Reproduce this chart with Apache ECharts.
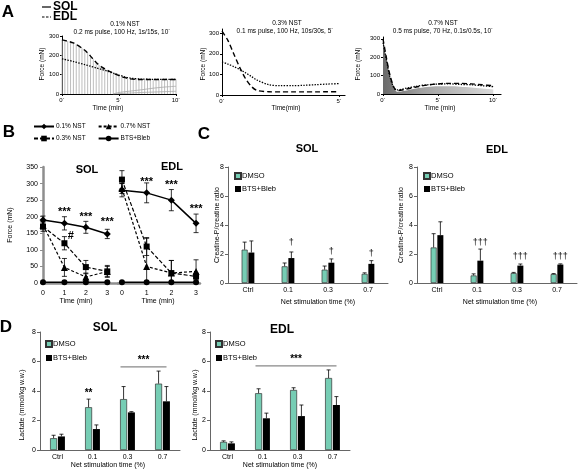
<!DOCTYPE html>
<html><head><meta charset="utf-8">
<script src="https://cdn.jsdelivr.net/npm/echarts@6/dist/echarts.min.js"></script>
<style>html,body{margin:0;padding:0;background:#fff}#c{width:578px;height:470px}</style>
</head><body><div id="c"></div>
<script>
// ---------------- DATA ----------------
// Panel A (force traces, mN vs min)
const A1_lineTime = [0,1,2,2.5,3,3.5,4,4.5,5,5.5,6,7,8,9,10];
const A1_EDL = [280,264,226,196,163,139,122,108,95,85,78,75,75,75,75];
const A1_SOL = [182,168,152,144,135,127,118,108,98,89,82,77,76,76,75];
const A1_twitchTime = [0,0.25,0.5,0.75,1,1.25,1.5,1.75,2,2.25,2.5,2.75,3,3.25,3.5,3.75,4,4.25,4.5,4.75,5,5.25,5.5,5.75,6,6.25,6.5,6.75,7,7.25,7.5,7.75,8,8.25,8.5,8.75,9,9.25,9.5,9.75,10];
const A1_twitch = [280,278,274,270,264,258,248,238,226,212,196,180,163,150,139,130,122,115,108,101,95,90,85,81,78,77,76,76,75,75,75,75,75,75,75,75,75,75,75,75,75];
const A1_baseTime = [4.5,5,6,7,8,9,10];
const A1_base1 = [0,8,15,22,30,36,40];
const A1_base2 = [0,2,5,8,10,12,14];
const A2_time = [0,0.25,0.5,0.75,1,1.25,1.5,2,2.5,3,3.5,4,4.5,5];
const A2_EDL = [310,265,200,135,80,42,22,16,15,15,15,15,16,16];
const A2_SOL = [160,150,138,124,108,90,72,50,45,45,47,50,53,55];
const A3_time = [0,0.3,0.6,1,1.3,2,3,4,5,6,7,8,9,10];
const A3_EDL = [300,200,110,35,18,25,38,48,55,58,58,55,50,45];
const A3_SOL = [280,190,100,32,22,30,42,50,54,55,52,50,45,40];
const A3_area = [290,195,105,30,12,18,30,38,42,42,40,36,30,25];
const A_xTicks = [0,5,10];
const A2_xTicks = [0,5];
const A_yTicks = [0,100,200,300];

// Panel B (force, mN)
const B_time = [0,1,2,3];
const B_SOL_01 = [190,180,168,148], B_SOL_01_err = [12,20,18,14];
const B_SOL_03 = [170,120,48,35],  B_SOL_03_err = [14,20,20,18];
const B_SOL_07 = [175,47,18,35],   B_SOL_07_err = [10,27,12,15];
const B_SOL_BTS = [2,2,2,2];
const B_EDL_01 = [280,272,250,180], B_EDL_01_err = [20,30,32,28];
const B_EDL_03 = [312,110,30,20],  B_EDL_03_err = [27,27,38,10];
const B_EDL_07 = [285,50,30,35],   B_EDL_07_err = [15,85,38,35];
const B_EDL_BTS = [2,2,2,2];
const B_SOL_sig = [[1,214],[2,200],[3,184],[1.3,142]];
const B_SOL_sigText = ['***','***','***','#'];
const B_EDL_sig = [[1,306],[2,297],[3,224]];
const B_EDL_sigText = ['***','***','***'];

// Panel C (Creatine-P/creatine ratio)
const cats = ['Ctrl','0.1','0.3','0.7'];
const C_SOL_DMSO = [2.3,1.15,0.92,0.63], C_SOL_DMSO_err = [0.52,0.23,0.25,0.07];
const C_SOL_BTS  = [2.1,1.72,1.4,1.32],  C_SOL_BTS_err  = [0.8,0.42,0.26,0.22];
const C_EDL_DMSO = [2.45,0.52,0.68,0.61], C_EDL_DMSO_err = [0.95,0.11,0.05,0.04];
const C_EDL_BTS  = [3.3,1.54,1.2,1.27],  C_EDL_BTS_err  = [0.92,0.8,0.11,0.05];
const C_SOL_sig = [[1,2.76],[2,2.15],[3,2.05]];
const C_SOL_sigText = ['†','†','†'];
const C_EDL_sig = [[1,2.79],[2,1.81],[3,1.81]];
const C_EDL_sigText = ['†††','†††','†††'];

// Panel D (Lactate, mmol/kg w.w.)
const D_SOL_DMSO = [0.8,2.9,3.45,4.5],  D_SOL_DMSO_err = [0.2,0.55,0.85,0.85];
const D_SOL_BTS  = [0.92,1.42,2.55,3.3], D_SOL_BTS_err  = [0.15,0.28,0.05,1.0];
const D_EDL_DMSO = [0.55,3.85,4.07,4.88], D_EDL_DMSO_err = [0.07,0.3,0.15,0.55];
const D_EDL_BTS  = [0.45,2.15,2.3,3.05],  D_EDL_BTS_err  = [0.1,0.35,0.75,0.57];
const D_SOL_sig = [[1,3.86]], D_SOL_sigText = ['**'];
const D_SOL_bracket = [[2,5.63,3]], D_EDL_bracket = [[1,5.7,3]];

// ---------------- STYLE ----------------
const FONT = '"Liberation Sans", Arial, Helvetica, sans-serif';
const GREEN = '#76cdb4';
const GREY = '#8e8e8e';
const pairs = (xs, ys) => xs.map((x,i)=>[x, ys[i]]);
const triples = (xs, ys, es) => xs.map((x,i)=>[x, ys[i], es[i]]);
const lbl = (size, extra) => Object.assign({fontSize:size, color:'#000', fontFamily:FONT}, extra||{});

function T(x, y, text, size, o) {
  o = o || {};
  return {type:'text', x:x, y:y, rotation:o.rot||0, z:100, silent:true,
    style:{text:text, font:(o.bold?'bold ':'')+size+'px '+FONT, fill:'#000',
      textAlign:o.align||'center', textVerticalAlign:'middle', align:o.align||'center', verticalAlign:'middle'}};
}

// ---------------- GRIDS & AXES ----------------
const grids = [
  {left:62, top:36, width:114, height:58},
  {left:222, top:29, width:123, height:66},
  {left:383, top:37, width:118, height:57},
  {left:43, top:167, width:75, height:116},
  {left:118, top:167, width:82, height:116},
  {left:228, top:167, width:160, height:116},
  {left:417, top:167, width:160, height:116},
  {left:40, top:332, width:140, height:118},
  {left:210, top:332, width:140, height:118}
].map(g => Object.assign({containLabel:false, outerBoundsMode:'none'}, g));

function axA_x(gi, max, ticks) {
  return {gridIndex:gi, type:'value', min:0, max:max,
    axisLine:{show:true, lineStyle:{color:'#000', width:1.2}},
    axisTick:{show:true, length:2, customValues:ticks, lineStyle:{color:'#000'}},
    axisLabel:Object.assign(lbl(6), {margin:3, customValues:ticks, formatter:v=>v+'´'}),
    splitLine:{show:false}};
}
function axA_y(gi, max) {
  return {gridIndex:gi, type:'value', min:0, max:max,
    axisLine:{show:true, lineStyle:{color:'#000', width:1}},
    axisTick:{show:true, length:2, customValues:A_yTicks, lineStyle:{color:'#000'}},
    axisLabel:Object.assign(lbl(6), {margin:3, customValues:A_yTicks}),
    splitLine:{show:false}};
}
function axB_x(gi, min, max) {
  return {gridIndex:gi, type:'value', min:min, max:max,
    axisLine:{show:true, onZero:false, lineStyle:{color:GREY, width:2.5}},
    axisTick:{show:false},
    axisLabel:Object.assign(lbl(7), {margin:7, customValues:B_time}),
    splitLine:{show:false}};
}
function axB_y(gi, show) {
  return {gridIndex:gi, type:'value', min:0, max:350, interval:50, show:show,
    axisLine:{show:true, lineStyle:{color:GREY, width:2.5}},
    axisTick:{show:true, length:3, lineStyle:{color:GREY}},
    axisLabel:Object.assign(lbl(7), {margin:5}),
    splitLine:{show:false}};
}
function axCat(gi) {
  return {gridIndex:gi, type:'category', data:cats,
    axisLine:{show:true, lineStyle:{color:'#666', width:1}},
    axisTick:{show:false},
    axisLabel:Object.assign(lbl(7), {margin:4}),
    splitLine:{show:false}};
}
function axBarY(gi) {
  return {gridIndex:gi, type:'value', min:0, max:8, interval:2,
    axisLine:{show:true, lineStyle:{color:'#666', width:1}},
    axisTick:{show:true, length:3, lineStyle:{color:'#666'}},
    axisLabel:Object.assign(lbl(7), {margin:4}),
    splitLine:{show:false}};
}

const xAxis = [axA_x(0,10,A_xTicks), axA_x(1,5.25,A2_xTicks), axA_x(2,10.7,A_xTicks),
  axB_x(3,0,3.5), axB_x(4,-0.16,3.16), axCat(5), axCat(6), axCat(7), axCat(8)];
const yAxis = [axA_y(0,300), axA_y(1,320), axA_y(2,310),
  axB_y(3,true), axB_y(4,false), axBarY(5), axBarY(6), axBarY(7), axBarY(8)];

// ---------------- SERIES HELPERS ----------------
const EDL_LS = {color:'#000', width:1.4, type:[5,3]};
const SOL_LS = {color:'#000', width:1.3, type:[1.4,1.4]};
function lineA(gi, xs, ys, ls, name) {
  return {type:'line', name:name, xAxisIndex:gi, yAxisIndex:gi, data:pairs(xs,ys), smooth:0.3,
    symbol:'none', lineStyle:ls, silent:true, z:5};
}
function errBothSeries(gi, xs, ys, es) {
  return {type:'custom', xAxisIndex:gi, yAxisIndex:gi, silent:true, z:3, data:triples(xs,ys,es),
    renderItem:function(params, api){
      const x=api.value(0), y=api.value(1), e=api.value(2);
      const a=api.coord([x,y+e]), b=api.coord([x,Math.max(0,y-e)]);
      const st={stroke:'#000', lineWidth:0.8};
      return {type:'group', children:[
        {type:'line', shape:{x1:a[0],y1:a[1],x2:b[0],y2:b[1]}, style:st},
        {type:'line', shape:{x1:a[0]-2.5,y1:a[1],x2:a[0]+2.5,y2:a[1]}, style:st},
        {type:'line', shape:{x1:b[0]-2.5,y1:b[1],x2:b[0]+2.5,y2:b[1]}, style:st}]};
    }};
}
function lineB(gi, name, ys, symbol, size, ls) {
  return {type:'line', name:name, xAxisIndex:gi, yAxisIndex:gi, data:pairs(B_time, ys),
    symbol:symbol, symbolSize:size, showAllSymbol:true, itemStyle:{color:'#000'},
    lineStyle:ls, z:6, silent:true};
}
function barS(gi, name, ys, color, bw, border) {
  return {type:'bar', name:name, xAxisIndex:gi, yAxisIndex:gi, data:ys, barWidth:bw, barGap:'12%',
    itemStyle:{color:color, borderColor:border?'#333':color, borderWidth:border?0.7:0}, silent:true, z:2};
}
function errUpSeries(gi, ys, es, off) {
  return {type:'custom', xAxisIndex:gi, yAxisIndex:gi, silent:true, z:4,
    data:ys.map((v,i)=>[i, v, es[i]]),
    renderItem:function(params, api){
      const c=api.value(0), v=api.value(1), e=api.value(2);
      const p0=api.coord([c,v]), p1=api.coord([c,v+e]);
      const x=p0[0]+off;
      const st={stroke:'#000', lineWidth:0.8};
      return {type:'group', children:[
        {type:'line', shape:{x1:x,y1:p0[1],x2:x,y2:p1[1]}, style:st},
        {type:'line', shape:{x1:x-2,y1:p1[1],x2:x+2,y2:p1[1]}, style:st}]};
    }};
}
function textSeries(gi, pts, texts, off, font) {
  return {type:'custom', xAxisIndex:gi, yAxisIndex:gi, silent:true, z:10, data:pts,
    renderItem:function(params, api){
      const p=api.coord([api.value(0), api.value(1)]);
      return {type:'text', x:p[0]+off, y:p[1], style:{text:texts[params.dataIndex], font:font, fill:'#000',
        textAlign:'center', textVerticalAlign:'middle', align:'center', verticalAlign:'middle'}};
    }};
}
function bracketSeries(gi, data) {
  return {type:'custom', xAxisIndex:gi, yAxisIndex:gi, silent:true, z:10, data:data,
    renderItem:function(params, api){
      const a=api.coord([api.value(0), api.value(1)]);
      const b=api.coord([api.value(2), api.value(1)]);
      const x1=a[0]-7, x2=b[0]+4;
      return {type:'group', children:[
        {type:'line', shape:{x1:x1,y1:a[1],x2:x2,y2:a[1]}, style:{stroke:'#888', lineWidth:1.2}},
        {type:'text', x:(x1+x2)/2, y:a[1]-7, style:{text:'***', font:'bold 10px '+FONT, fill:'#000',
          textAlign:'center', textVerticalAlign:'middle', align:'center', verticalAlign:'middle'}}]};
    }};
}

const L01 = {color:'#000', width:1.5};
const L03 = {color:'#000', width:1.2, type:[4,2]};
const L07 = {color:'#000', width:1.2, type:[3,2]};
const LBT = {color:'#000', width:1.5};
const CBW = 6, COFF = (CBW + CBW*0.12)/2;
const DBW = 7, DOFF = (DBW + DBW*0.12)/2;
const STAR = 'bold 11px ' + FONT;

const series = [
  // B SOL
  errBothSeries(3, B_time, B_SOL_01, B_SOL_01_err),
  errBothSeries(3, B_time, B_SOL_03, B_SOL_03_err),
  errBothSeries(3, B_time, B_SOL_07, B_SOL_07_err),
  lineB(3, '0.1% NST', B_SOL_01, 'diamond', 7, L01),
  lineB(3, '0.7% NST', B_SOL_07, 'triangle', 7, L07),
  lineB(3, '0.3% NST', B_SOL_03, 'rect', 6, L03),
  lineB(3, 'BTS+Bleb', B_SOL_BTS, 'circle', 6, LBT),
  textSeries(3, B_SOL_sig, B_SOL_sigText, 0, STAR),
  // B EDL
  errBothSeries(4, B_time, B_EDL_01, B_EDL_01_err),
  errBothSeries(4, B_time, B_EDL_03, B_EDL_03_err),
  errBothSeries(4, B_time, B_EDL_07, B_EDL_07_err),
  lineB(4, '0.1% NST', B_EDL_01, 'diamond', 7, L01),
  lineB(4, '0.7% NST', B_EDL_07, 'triangle', 7, L07),
  lineB(4, '0.3% NST', B_EDL_03, 'rect', 6, L03),
  lineB(4, 'BTS+Bleb', B_EDL_BTS, 'circle', 6, LBT),
  textSeries(4, B_EDL_sig, B_EDL_sigText, 0, STAR),
  // A1
  {type:'bar', xAxisIndex:0, yAxisIndex:0, data:pairs(A1_twitchTime, A1_twitch), barWidth:1,
    itemStyle:{color:'#bdbdbd'}, silent:true, z:1},
  {type:'line', xAxisIndex:0, yAxisIndex:0, data:pairs(A1_baseTime, A1_base1), symbol:'none', smooth:0.3,
    lineStyle:{color:'#aaa', width:0.8}, silent:true, z:2},
  {type:'line', xAxisIndex:0, yAxisIndex:0, data:pairs(A1_baseTime, A1_base2), symbol:'none', smooth:0.3,
    lineStyle:{color:'#aaa', width:0.8}, silent:true, z:2},
  lineA(0, A1_lineTime, A1_EDL, EDL_LS),
  lineA(0, A1_lineTime, A1_SOL, SOL_LS),
  // A2
  lineA(1, A2_time, A2_EDL, EDL_LS),
  lineA(1, A2_time, A2_SOL, SOL_LS),
  // A3
  {type:'line', xAxisIndex:2, yAxisIndex:2, data:pairs(A3_time, A3_area), symbol:'none', smooth:0.3,
    lineStyle:{width:0, opacity:0}, silent:true, z:1,
    areaStyle:{opacity:1, color:{type:'linear', x:0, y:0, x2:1, y2:0, colorStops:[
      {offset:0, color:'#6a6a6a'},{offset:0.35, color:'#a0a0a0'},{offset:1, color:'#dadada'}]}}},
  lineA(2, A3_time, A3_EDL, EDL_LS),
  lineA(2, A3_time, A3_SOL, SOL_LS),
  // C SOL
  barS(5, 'DMSO', C_SOL_DMSO, GREEN, CBW, true),
  barS(5, 'BTS+Bleb', C_SOL_BTS, '#000', CBW, false),
  errUpSeries(5, C_SOL_DMSO, C_SOL_DMSO_err, -COFF),
  errUpSeries(5, C_SOL_BTS, C_SOL_BTS_err, COFF),
  textSeries(5, C_SOL_sig, C_SOL_sigText, COFF, '9px ' + FONT),
  // C EDL
  barS(6, 'DMSO', C_EDL_DMSO, GREEN, CBW, true),
  barS(6, 'BTS+Bleb', C_EDL_BTS, '#000', CBW, false),
  errUpSeries(6, C_EDL_DMSO, C_EDL_DMSO_err, -COFF),
  errUpSeries(6, C_EDL_BTS, C_EDL_BTS_err, COFF),
  textSeries(6, C_EDL_sig, C_EDL_sigText, COFF, '9px ' + FONT),
  // D SOL
  barS(7, 'DMSO', D_SOL_DMSO, GREEN, DBW, true),
  barS(7, 'BTS+Bleb', D_SOL_BTS, '#000', DBW, false),
  errUpSeries(7, D_SOL_DMSO, D_SOL_DMSO_err, -DOFF),
  errUpSeries(7, D_SOL_BTS, D_SOL_BTS_err, DOFF),
  textSeries(7, D_SOL_sig, D_SOL_sigText, -DOFF, 'bold 10px ' + FONT),
  bracketSeries(7, D_SOL_bracket),
  // D EDL
  barS(8, 'DMSO', D_EDL_DMSO, GREEN, DBW, true),
  barS(8, 'BTS+Bleb', D_EDL_BTS, '#000', DBW, false),
  errUpSeries(8, D_EDL_DMSO, D_EDL_DMSO_err, -DOFF),
  errUpSeries(8, D_EDL_BTS, D_EDL_BTS_err, DOFF),
  bracketSeries(8, D_EDL_bracket)
];

const legBase = {padding:0, selectedMode:false, textStyle:lbl(6.5, {padding:[0,0,0,-3]})};
const legBar = (left, top, gap) => Object.assign({}, legBase, {left:left, top:top, orient:'vertical', icon:'rect',
  itemWidth:6, itemHeight:6, itemGap:gap, data:['DMSO','BTS+Bleb'], textStyle:lbl(7.5, {padding:[0,0,0,-4]})});
const legend = [
  Object.assign({}, legBase, {left:33, top:123, itemWidth:20, itemHeight:7, itemGap:12, data:['0.1% NST','0.7% NST']}),
  Object.assign({}, legBase, {left:33, top:135, itemWidth:20, itemHeight:7, itemGap:12, data:['0.3% NST','BTS+Bleb']}),
  legBar(234, 172, 5), legBar(423, 172, 5), legBar(45, 340, 6), legBar(215, 340, 6)
];

const graphic = [
  T(8,12,'A',17,{bold:true}), T(9,132,'B',17,{bold:true}), T(204,134,'C',17,{bold:true}), T(6,327,'D',17,{bold:true}),
  {type:'line', shape:{x1:42,y1:7,x2:51,y2:7}, style:{stroke:'#000', lineWidth:1.2}},
  {type:'line', shape:{x1:42,y1:17,x2:51,y2:17}, style:{stroke:'#000', lineWidth:1.2, lineDash:[2.5,1.5]}},
  T(53,7,'SOL',12,{bold:true, align:'left'}), T(53,17,'EDL',12,{bold:true, align:'left'}),
  T(125,24,'0.1% NST',6.5), T(122,32,'0.2 ms pulse, 100 Hz, 1s/15s, 10´',6.5),
  T(287,23,'0.3% NST',6.5), T(285,31,'0.1 ms pulse, 100 Hz, 10s/30s, 5´',6.5),
  T(443,23,'0.7% NST',6.5), T(443,31,'0.5 ms pulse, 70 Hz, 0.1s/0.5s, 10´',6.5),
  T(108,108,'Time (min)',6.5), T(286,108,'Time(min)',6.5), T(440,108,'Time (min)',6.5),
  T(42,64,'Force (mN)',6.5,{rot:Math.PI/2}), T(203,64,'Force (mN)',6.5,{rot:Math.PI/2}), T(358,64,'Force (mN)',6.5,{rot:Math.PI/2}),
  T(87,170,'SOL',11,{bold:true}), T(172,167,'EDL',11,{bold:true}),
  T(76,301,'Time (min)',7), T(158,301,'Time (min)',7),
  T(10,225,'Force (mN)',7,{rot:Math.PI/2}),
  T(307,149,'SOL',11,{bold:true}), T(497,150,'EDL',11,{bold:true}),
  T(217,225,'Creatine-P/creatine ratio',7,{rot:Math.PI/2}), T(401,225,'Creatine-P/creatine ratio',7,{rot:Math.PI/2}),
  T(318,302,'Net stimulation time (%)',7), T(500,302,'Net stimulation time (%)',7),
  T(105,328,'SOL',12,{bold:true}), T(282,330,'EDL',12,{bold:true}),
  T(22,405,'Lactate (mmol/kg w.w.)',7,{rot:Math.PI/2}), T(195,405,'Lactate (mmol/kg w.w.)',7,{rot:Math.PI/2}),
  T(108,465,'Net stimulation time (%)',7), T(280,465,'Net stimulation time (%)',7)
];

const chart = echarts.init(document.getElementById('c'), null, {renderer:'canvas'});
chart.setOption({
  animation:false, backgroundColor:'#fff', textStyle:{fontFamily:FONT},
  grid:grids, xAxis:xAxis, yAxis:yAxis, legend:legend, series:series, graphic:graphic
});
</script></body></html>
